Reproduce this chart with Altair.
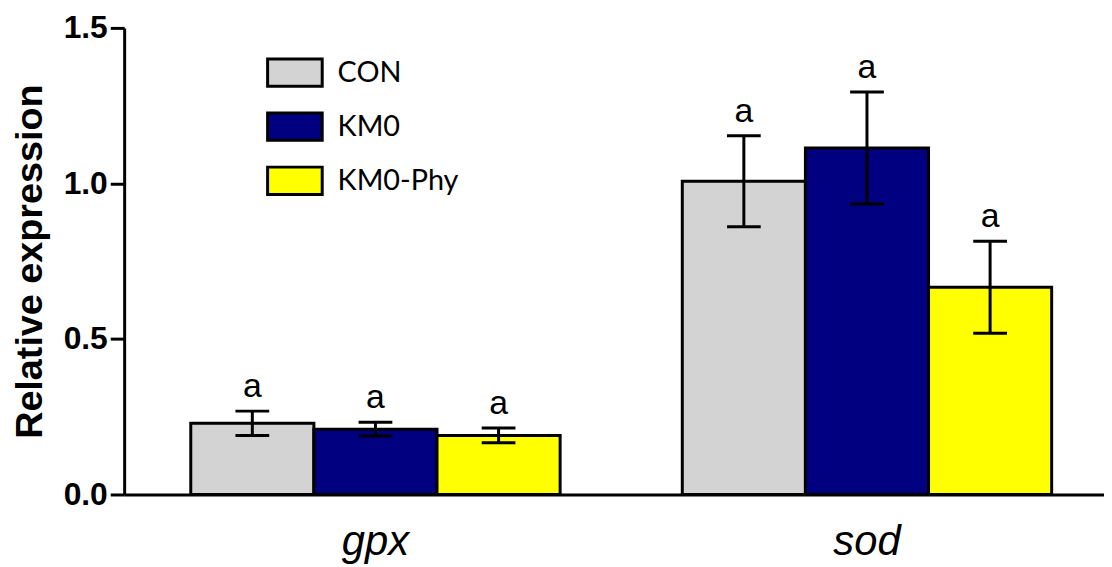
import altair as alt
import pandas as pd

genes = ["gpx", "sod"]
groups = ["CON", "KM0", "KM0-Phy"]
colors = ["#D3D3D3", "#000080", "#FFFF00"]
gpx_mean = [0.229, 0.210, 0.190]
gpx_sem = [0.039, 0.022, 0.024]
sod_mean = [1.007, 1.114, 0.666]
sod_sem = [0.146, 0.180, 0.148]
gpx_letters = ["a", "a", "a"]
sod_letters = ["a", "a", "a"]

rows = []
for gene, means, sems, lets in [("gpx", gpx_mean, gpx_sem, gpx_letters),
                                ("sod", sod_mean, sod_sem, sod_letters)]:
    for g, m, s, l in zip(groups, means, sems, lets):
        rows.append(dict(gene=gene, group=g, mean=m, lo=m - s, hi=m + s, letter=l))
df = pd.DataFrame(rows)

x = alt.X("gene:N", sort=genes,
          scale=alt.Scale(paddingInner=0.2485, paddingOuter=0.121, align=0.56, round=False),
          axis=alt.Axis(title=None, labelAngle=0, labelFont="Liberation Sans",
                        labelFontStyle="italic", labelFontSize=42, labelColor="black",
                        ticks=False, domainColor="black", domainWidth=3, labelPadding=27))
xo = alt.XOffset("group:N", sort=groups, scale=alt.Scale(paddingInner=0, paddingOuter=0, round=False))
yscale = alt.Scale(domain=[0, 1.5], nice=False, zero=True)
yaxis = alt.Axis(values=[0, 0.5, 1.0, 1.5], format=".1f", title="Relative expression",
                 titleFont="Liberation Sans", titleFontSize=38, titleFontWeight="bold",
                 titleColor="black", titlePadding=14,
                 labelFont="Liberation Sans", labelFontSize=32, labelFontWeight="bold",
                 labelColor="black", labelPadding=3, tickSize=14, tickWidth=3,
                 tickColor="black", domainColor="black", domainWidth=3, grid=False)

legend = alt.Legend(title=None, orient="none", legendX=143, legendY=16,
                    symbolType="M-1,-0.5H1V0.5H-1Z", symbolSize=3025,
                    symbolStrokeColor="black", symbolStrokeWidth=3, symbolOpacity=1,
                    labelFont="Lato", labelFontSize=29, labelColor="black",
                    labelOffset=14, rowPadding=5.5, padding=0)

base = alt.Chart(df)

bars = base.mark_bar(stroke="black", strokeWidth=3).encode(
    x=x, xOffset=xo,
    y=alt.Y("mean:Q", scale=yscale, axis=yaxis),
    fill=alt.Fill("group:N", sort=groups, scale=alt.Scale(domain=groups, range=colors), legend=legend),
)

err = base.mark_rule(color="black", strokeWidth=3).encode(
    x=x, xOffset=xo, y=alt.Y("lo:Q", scale=yscale), y2="hi:Q")

cap_hi = base.mark_tick(color="black", thickness=3, size=34, opacity=1).encode(
    x=x, xOffset=xo, y=alt.Y("hi:Q", scale=yscale))
cap_lo = base.mark_tick(color="black", thickness=3, size=34, opacity=1).encode(
    x=x, xOffset=xo, y=alt.Y("lo:Q", scale=yscale))

letters = base.mark_text(font="Liberation Sans", fontSize=34, color="black",
                         baseline="middle", dy=-24).encode(
    x=x, xOffset=xo, y=alt.Y("hi:Q", scale=yscale), text="letter:N")

chart = alt.layer(bars, err, cap_hi, cap_lo, letters).properties(
    width=987, height=470,
    autosize=alt.AutoSizeParams(type="none"),
    padding={"left": 117, "top": 18, "right": 0, "bottom": 71},
).configure_view(stroke=None)

chart.save("out.html", embed_options={"renderer": "svg", "actions": False})
